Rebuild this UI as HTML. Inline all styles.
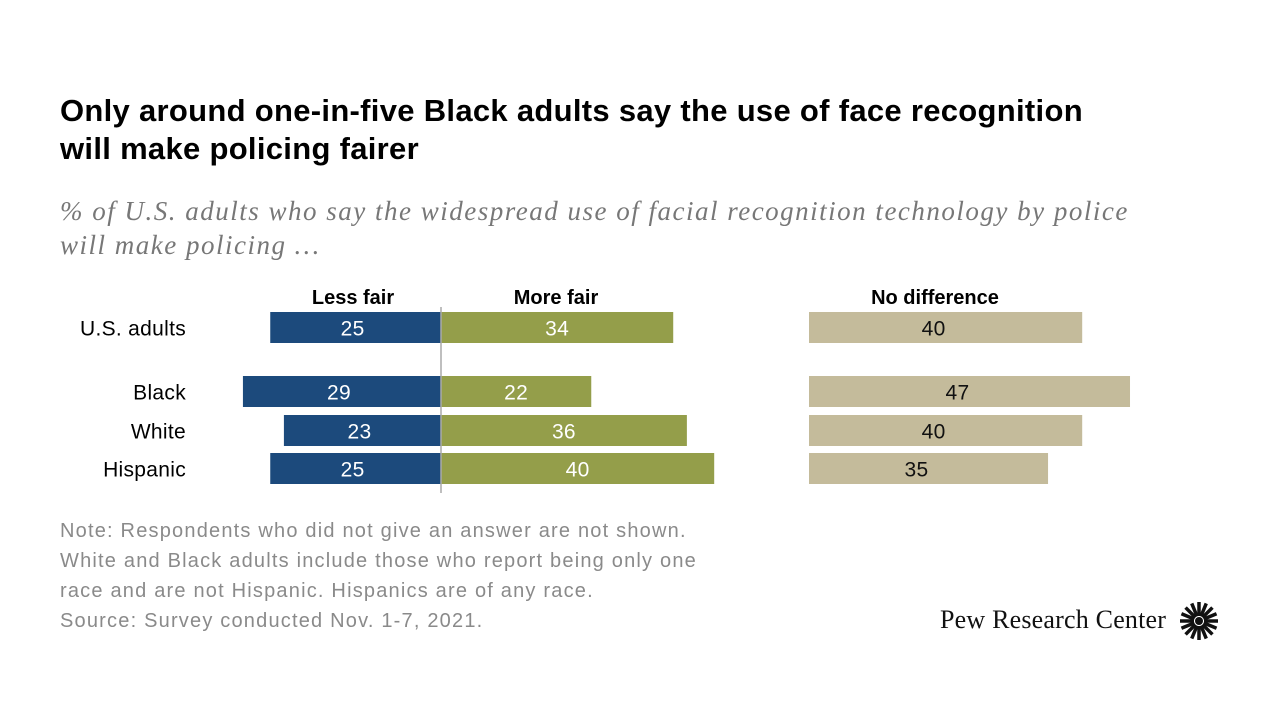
<!DOCTYPE html>
<html><head><meta charset="utf-8">
<style>
body{margin:0;width:1280px;height:720px;background:#fff;overflow:hidden;font-family:"Liberation Sans",sans-serif;}
#title{position:absolute;left:60px;top:92px;font-size:31px;font-weight:bold;color:#000;line-height:38px;width:1060px;letter-spacing:0.3px}
#sub{position:absolute;left:60px;top:194px;font-family:"Liberation Serif",serif;font-style:italic;font-size:27px;color:#777;line-height:34px;width:1100px;letter-spacing:1.5px}
#note{position:absolute;left:60px;top:516px;font-size:20px;color:#8a8a8a;line-height:30px;width:680px;letter-spacing:1.2px}
#logo{position:absolute;left:940px;top:605px;font-family:"Liberation Serif",serif;font-size:26px;color:#111;letter-spacing:0.2px}
svg{position:absolute;left:0;top:0}
</style></head><body>
<div id="title">Only around one-in-five Black adults say the use of face recognition will make policing fairer</div>
<div id="sub">% of U.S. adults who say the widespread use of facial recognition technology by police will make policing …</div>
<div id="note">Note: Respondents who did not give an answer are not shown. White and Black adults include those who report being only one race and are not Hispanic. Hispanics are of any race.<br>Source: Survey conducted Nov. 1-7, 2021.</div>
<div id="logo">Pew Research Center</div>
<svg width="1280" height="720" id="chart">
<g id="logomark"></g>
</svg>
<script>
const categories=["U.S. adults","Black","White","Hispanic"];
const lessFair=[25,29,23,25];
const moreFair=[34,22,36,40];
const noDiff=[40,47,40,35];
const rowY=[312,376,415,453];
const bh=31, center=441, ndStart=809, k=6.83;
const x=v=>v*k;
const svg=document.getElementById('chart');
const NS='http://www.w3.org/2000/svg';
function mk(t,a){const e=document.createElementNS(NS,t);for(const n in a)e.setAttribute(n,a[n]);svg.appendChild(e);return e;}
function txt(s,xx,yy,opt){const e=mk('text',Object.assign({x:xx,y:yy,'font-size':21,'letter-spacing':0.3,'font-family':'Liberation Sans, sans-serif'},opt));e.textContent=s;return e;}
let h;
h=txt('Less fair',353,304,{'text-anchor':'middle','font-weight':'bold','font-size':20,'letter-spacing':0});


h=txt('More fair',556,304,{'text-anchor':'middle','font-weight':'bold','font-size':20,'letter-spacing':0});


h=txt('No difference',935,304,{'text-anchor':'middle','font-weight':'bold','font-size':20,'letter-spacing':0});


categories.forEach((c,i)=>{
  const y=rowY[i];
  let l=txt(c,186,y+bh/2+8,{'text-anchor':'end'});
  
  
  let w=x(lessFair[i]);
  let r=mk('rect',{x:center-w,y:y,width:w,height:bh,fill:'#1c4a7c'});
  
  
  let t=txt(lessFair[i],center-w/2-3,y+bh/2+8,{'text-anchor':'middle',fill:'#fff'});
  
  
  w=x(moreFair[i]);
  r=mk('rect',{x:center,y:y,width:w,height:bh,fill:'#949e4a'});
  
  
  t=txt(moreFair[i],center+w/2,y+bh/2+8,{'text-anchor':'middle',fill:'#fff'});
  
  
  w=x(noDiff[i]);
  r=mk('rect',{x:ndStart,y:y,width:w,height:bh,fill:'#c4bb9b'});
  
  
  t=txt(noDiff[i],ndStart+w/2-12,y+bh/2+8,{'text-anchor':'middle',fill:'#111'});
  
  
});
const cl=mk('line',{x1:center,x2:center,y1:307,y2:493,stroke:'#aaa','stroke-width':1.5});


const g=document.getElementById('logomark');
for(let a=0;a<16;a++){
  const ang=a*Math.PI/8;
  const ln=document.createElementNS(NS,'line');
  ln.setAttribute('x1',1199+Math.cos(ang)*5);ln.setAttribute('y1',621+Math.sin(ang)*5);
  ln.setAttribute('x2',1199+Math.cos(ang)*19);ln.setAttribute('y2',621+Math.sin(ang)*19);
  ln.setAttribute('stroke','#111');ln.setAttribute('stroke-width',3.5);
  g.appendChild(ln);
}
const dot=document.createElementNS(NS,'circle');
dot.setAttribute('cx',1199);dot.setAttribute('cy',621);dot.setAttribute('r',4);dot.setAttribute('fill','#111');
g.appendChild(dot);
</script>
</body></html>
